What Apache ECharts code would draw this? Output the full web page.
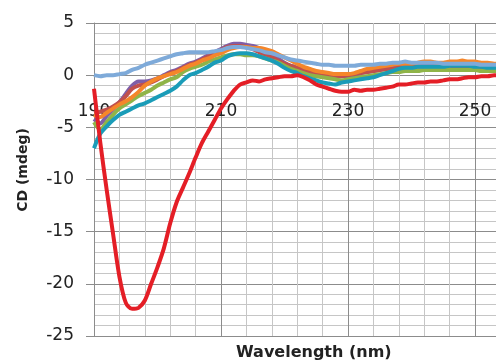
<!DOCTYPE html>
<html>
<head>
<meta charset="utf-8">
<script src="https://cdn.jsdelivr.net/npm/echarts@6/dist/echarts.min.js"></script>
<style>
  html, body { margin: 0; padding: 0; background: #fff; }
  #chart { width: 496px; height: 362px; }
</style>
</head>
<body>
<div id="chart"></div>
<script>
// wavelength in nm, one point per nm
var wavelength = [];
for (var w = 190; w <= 254; w++) wavelength.push(w);

var xTicks = [190, 210, 230, 250];

var purple = [-4.2, -4.6, -3.9, -3.3, -2.6, -1.8, -1.0, -0.6, -0.6, -0.5,
  -0.3, 0.0, 0.3, 0.5, 0.8, 1.1, 1.3, 1.6, 1.9, 2.2,
  2.5, 2.8, 3.0, 3.0, 2.9, 2.8, 2.6, 2.3, 2.0, 1.6,
  1.2, 0.9, 0.7, 0.5, 0.3, 0.2, 0.1, 0.0, -0.1, -0.1,
  -0.1, 0.0, 0.2, 0.3, 0.4, 0.5, 0.6, 0.7, 0.8, 0.8,
  0.9, 0.9, 0.9, 1.0, 0.9, 0.9, 1.0, 0.9, 0.9, 0.9,
  0.9, 0.8, 0.8, 0.8, 0.8];
var darkRed = [-3.6, -3.5, -3.3, -3.0, -2.6, -2.0, -1.3, -1.0, -0.9, -0.7,
  -0.4, -0.1, 0.2, 0.4, 0.7, 1.0, 1.2, 1.5, 1.8, 2.1,
  2.4, 2.7, 2.8, 2.8, 2.7, 2.5, 2.2, 1.9, 1.7, 1.4,
  1.1, 0.9, 0.7, 0.5, 0.3, 0.2, 0.1, 0.0, -0.1, -0.1,
  0.0, 0.1, 0.2, 0.3, 0.4, 0.5, 0.6, 0.6, 0.7, 0.7,
  0.8, 0.8, 0.8, 0.8, 0.8, 0.8, 0.9, 0.8, 0.8, 0.8,
  0.8, 0.8, 0.7, 0.7, 0.7];
var green = [-4.5, -5.2, -4.5, -3.8, -3.2, -2.8, -2.4, -2.0, -1.7, -1.4,
  -1.0, -0.7, -0.4, -0.2, 0.3, 0.6, 0.8, 1.0, 1.3, 1.5,
  1.7, 1.9, 2.0, 2.0, 1.9, 1.9, 1.8, 1.6, 1.4, 1.2,
  0.9, 0.6, 0.4, 0.2, 0.0, -0.1, -0.2, -0.3, -0.4, -0.5,
  -0.4, -0.3, -0.2, -0.1, 0.0, 0.1, 0.2, 0.3, 0.3, 0.4,
  0.4, 0.4, 0.5, 0.5, 0.5, 0.5, 0.5, 0.5, 0.5, 0.5,
  0.5, 0.4, 0.4, 0.4, 0.4];
var orange = [-3.8, -4.0, -3.6, -3.2, -2.8, -2.5, -2.1, -1.6, -1.0, -0.6,
  -0.3, -0.1, 0.1, 0.3, 0.6, 0.9, 1.1, 1.4, 1.6, 1.9,
  2.1, 2.4, 2.6, 2.7, 2.7, 2.6, 2.6, 2.5, 2.3, 2.0,
  1.7, 1.4, 1.1, 0.8, 0.6, 0.4, 0.3, 0.2, 0.1, 0.1,
  0.1, 0.2, 0.4, 0.6, 0.7, 0.8, 0.9, 1.0, 1.1, 1.1,
  1.1, 1.2, 1.3, 1.3, 1.2, 1.2, 1.3, 1.3, 1.4, 1.3,
  1.3, 1.2, 1.2, 1.1, 1.1];
var teal = [-7.0, -5.6, -4.9, -4.3, -3.8, -3.5, -3.2, -2.9, -2.7, -2.4,
  -2.1, -1.8, -1.5, -1.1, -0.5, 0.0, 0.2, 0.5, 0.8, 1.2,
  1.4, 1.8, 2.0, 2.1, 2.1, 2.0, 1.8, 1.6, 1.4, 1.1,
  0.7, 0.4, 0.2, -0.1, -0.3, -0.5, -0.7, -0.8, -0.9, -0.7,
  -0.6, -0.5, -0.4, -0.3, -0.2, 0.0, 0.2, 0.4, 0.6, 0.7,
  0.7, 0.8, 0.8, 0.8, 0.8, 0.8, 0.9, 0.9, 0.9, 0.9,
  0.8, 0.8, 0.7, 0.7, 0.7];
var lightBlue = [0.0, -0.1, 0.0, 0.0, 0.1, 0.2, 0.5, 0.7, 1.0, 1.2,
  1.4, 1.6, 1.8, 2.0, 2.1, 2.2, 2.2, 2.2, 2.2, 2.3,
  2.4, 2.6, 2.7, 2.7, 2.6, 2.5, 2.4, 2.2, 2.1, 1.9,
  1.7, 1.5, 1.4, 1.3, 1.2, 1.1, 1.0, 1.0, 0.9, 0.9,
  0.9, 0.9, 1.0, 1.0, 1.0, 1.1, 1.1, 1.2, 1.2, 1.3,
  1.2, 1.2, 1.2, 1.2, 1.2, 1.1, 1.1, 1.1, 1.1, 1.1,
  1.1, 1.0, 1.0, 1.0, 1.0];
var red = [-1.3, -6.5, -11.0, -15.2, -19.3, -21.8, -22.4, -22.3, -21.6, -20.0,
  -18.4, -16.6, -14.2, -12.2, -10.8, -9.4, -7.9, -6.5, -5.4, -4.3,
  -3.2, -2.3, -1.5, -0.9, -0.7, -0.5, -0.6, -0.4, -0.3, -0.2,
  -0.1, -0.1, 0.0, -0.2, -0.5, -0.9, -1.1, -1.3, -1.5, -1.6,
  -1.6, -1.4, -1.5, -1.4, -1.4, -1.3, -1.2, -1.1, -0.9, -0.9,
  -0.8, -0.7, -0.7, -0.6, -0.6, -0.5, -0.4, -0.4, -0.3, -0.2,
  -0.2, -0.1, -0.1, 0.0, 0.0];

function pairs(vals) {
    return vals.map(function (v, i) { return [wavelength[i], v]; });
}

var font = '"DejaVu Sans", sans-serif';

var chart = echarts.init(document.getElementById('chart'));
chart.setOption({
    animation: false,
    textStyle: { fontFamily: font, color: '#222' },
    grid: { left: 94, top: 23, width: 508, height: 313, containLabel: false, outerBoundsMode: 'none' },
    xAxis: {
        type: 'value',
        position: 'bottom',
        offset: -261,   // sits on the y = 0 line, like the Excel axis
        min: 190,
        max: 270,
        interval: 20,
        axisLine: { show: false, onZero: false },
        axisTick: { show: false },
        axisLabel: {
            fontSize: 17,
            color: '#222',
            margin: 28,
            hideOverlap: false,
            formatter: function (v) { return xTicks.indexOf(v) >= 0 ? String(v) : ''; }
        },
        splitLine: { show: true, lineStyle: { color: '#8c8c8c', width: 1 } },
        minorTick: { show: false, splitNumber: 5 },
        minorSplitLine: { show: true, lineStyle: { color: '#c6c6c6', width: 1 } }
    },
    yAxis: {
        type: 'value',
        min: -25,
        max: 5,
        interval: 5,
        axisLine: { show: true, lineStyle: { color: '#8c8c8c' } },
        axisTick: { show: true, inside: false, length: 8, lineStyle: { color: '#8c8c8c' } },
        axisLabel: { fontSize: 17, color: '#222', margin: 20 },
        splitLine: { show: true, lineStyle: { color: '#8c8c8c', width: 1 } },
        minorTick: { show: false, splitNumber: 5 },
        minorSplitLine: { show: true, lineStyle: { color: '#c6c6c6', width: 1 } }
    },
    graphic: [{
        type: 'text',
        left: 236,
        top: 345,
        style: { text: 'Wavelength (nm)', font: 'bold 16px ' + font, fill: '#222' }
    }, {
        type: 'text',
        x: 23,
        y: 170,
        rotation: Math.PI / 2,
        style: {
            text: 'CD (mdeg)', font: 'bold 14px ' + font, fill: '#222',
            align: 'center', verticalAlign: 'middle'
        }
    }],
    series: [
        { name: 'purple', data: pairs(purple), color: '#7f5fa8' },
        { name: 'darkRed', data: pairs(darkRed), color: '#c0504d' },
        { name: 'green', data: pairs(green), color: '#8fb448' },
        { name: 'orange', data: pairs(orange), color: '#f5862a' },
        { name: 'teal', data: pairs(teal), color: '#1a9cb8' },
        { name: 'lightBlue', data: pairs(lightBlue), color: '#7eaad9' },
        { name: 'red', data: pairs(red), color: '#e41e26' }
    ].map(function (s) {
        return Object.assign({
            type: 'line',
            showSymbol: false,
            smooth: 0.3,
            lineStyle: { width: 4, color: s.color }
        }, s);
    })
});
</script>
</body>
</html>
